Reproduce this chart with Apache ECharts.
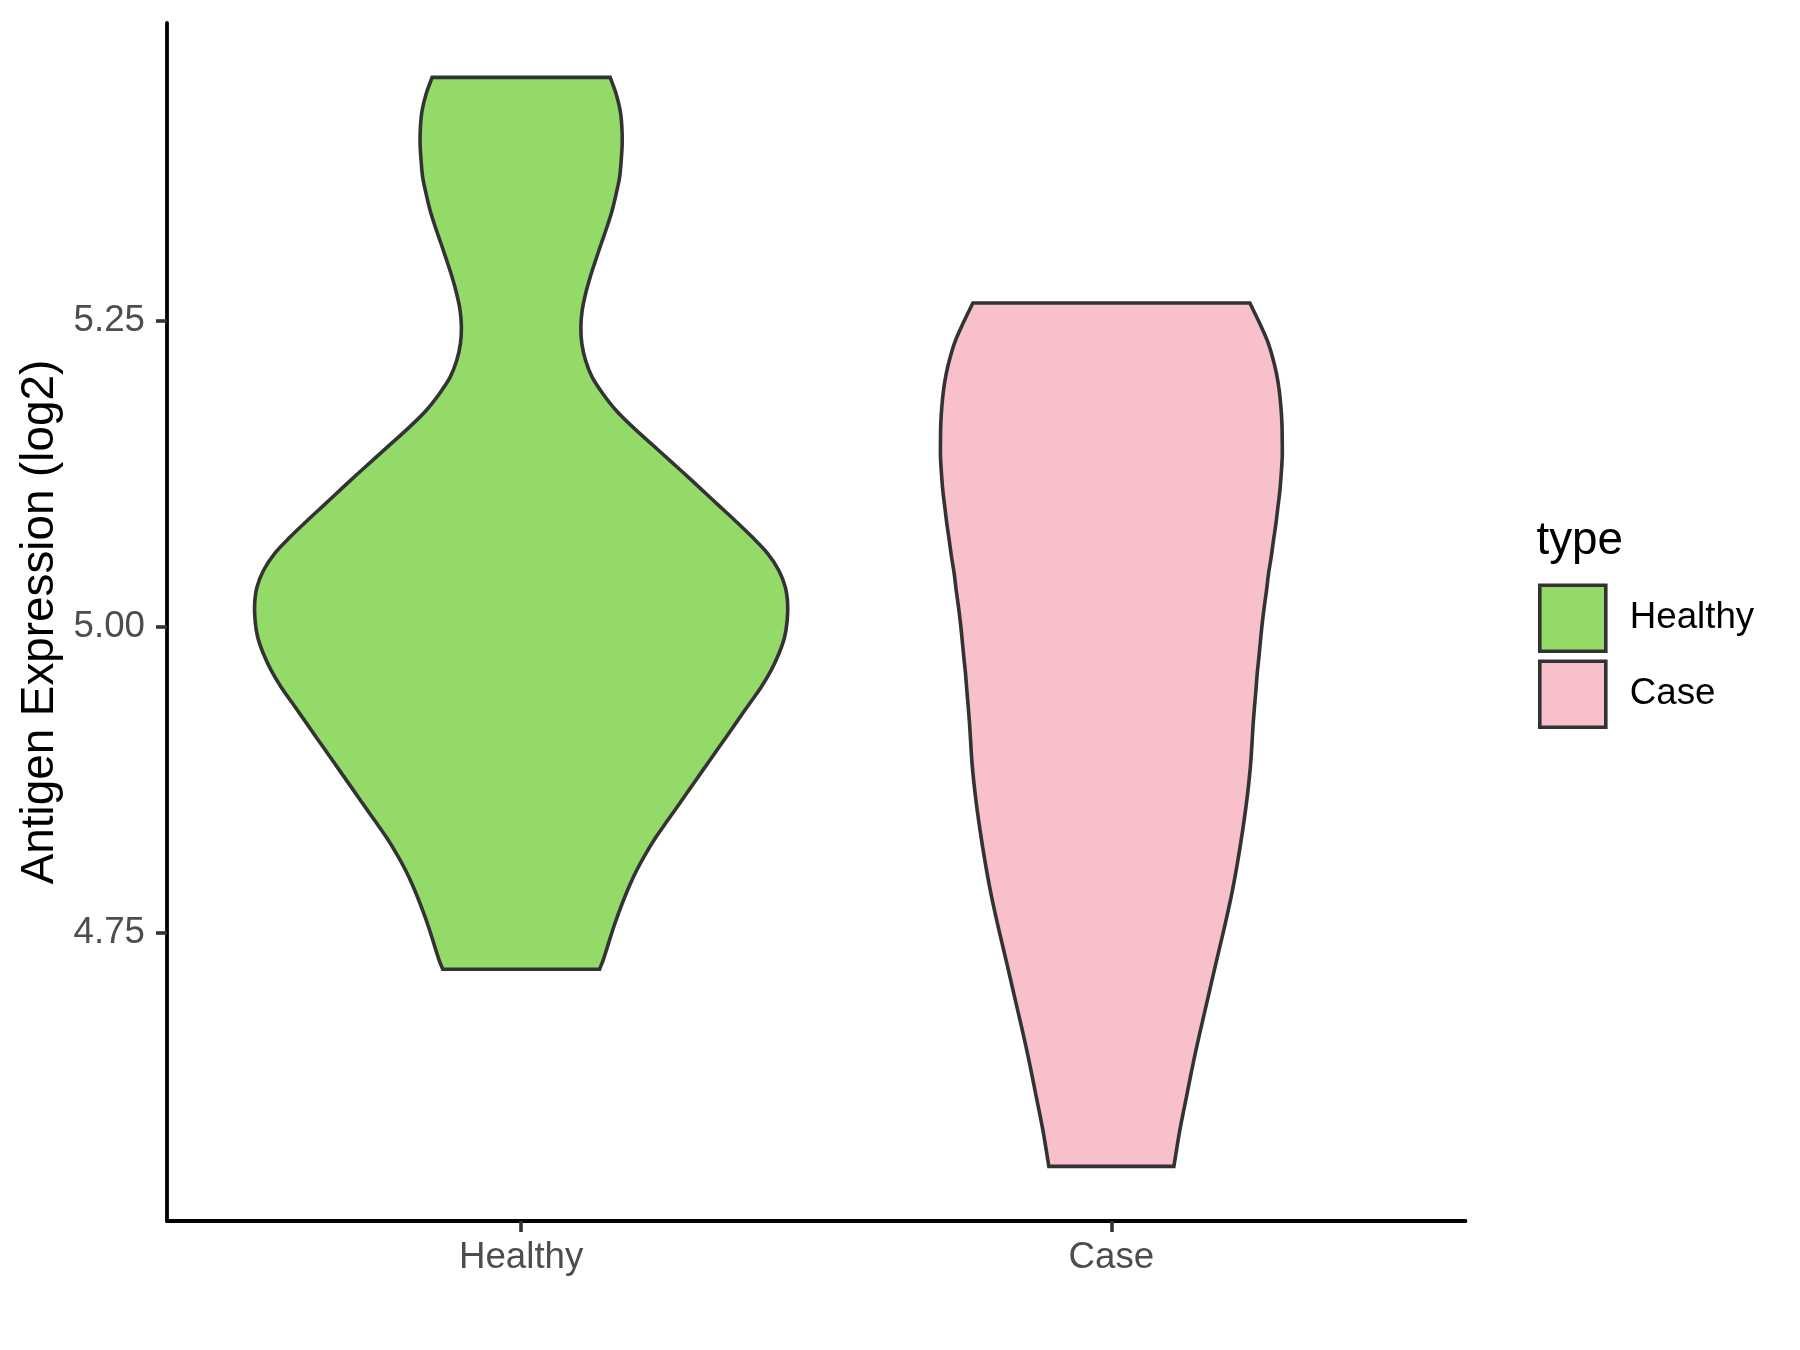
<!DOCTYPE html>
<html>
<head>
<meta charset="utf-8">
<script src="https://cdn.jsdelivr.net/npm/echarts@6/dist/echarts.min.js"></script>
<style>
html,body{margin:0;padding:0;background:#ffffff;}
#chart{width:1800px;height:1350px;}
</style>
</head>
<body>
<div id="chart"></div>
<script>
// ---- data ----
const categories = ['Healthy', 'Case'];
const yTickValues = [4.75, 5.00, 5.25];
const yAxisTitle = 'Antigen Expression (log2)';
const legendTitle = 'type';
const fillColors = ['#93DA69', '#F8C0CB'];

// Healthy violin outline: expression value (top -> bottom) and half-width (x units)
const healthyValues = [5.4488, 5.4353, 5.4217, 5.4080, 5.3945, 5.3809, 5.3672, 5.3537, 5.3401, 5.3264,
  5.3129, 5.2993, 5.2856, 5.2721, 5.2584, 5.2448, 5.2313, 5.2176, 5.2040, 5.1905,
  5.1768, 5.1632, 5.1497, 5.1360, 5.1224, 5.1007, 5.0871, 5.0734, 5.0599,
  5.0463, 5.0326, 5.0191, 5.0055, 4.9918, 4.9783, 4.9647, 4.9510, 4.9375, 4.9239,
  4.9102, 4.8967, 4.8831, 4.8694, 4.8559, 4.8423, 4.8286, 4.8151, 4.8015, 4.7878,
  4.7688, 4.7552, 4.7416, 4.7280, 4.7205];
const healthyHalfWidth = [0.1508, 0.1610, 0.1678, 0.1707, 0.1712, 0.1695, 0.1668, 0.1610, 0.1542, 0.1453,
  0.1356, 0.1261, 0.1169, 0.1092, 0.1034, 0.1012, 0.1029, 0.1092, 0.1203, 0.1385,
  0.1610, 0.1893, 0.2203, 0.2517, 0.2831, 0.3314, 0.3619, 0.3915, 0.4178,
  0.4364, 0.4475, 0.4515, 0.4508, 0.4464, 0.4368, 0.4237, 0.4068, 0.3871, 0.3673,
  0.3475, 0.3278, 0.3080, 0.2881, 0.2685, 0.2486, 0.2288, 0.2115, 0.1960, 0.1828,
  0.1670, 0.1570, 0.1480, 0.1390, 0.1329];

// Case violin outline
const caseValues = [5.2645, 5.2476, 5.2340, 5.2203, 5.2068, 5.1932, 5.1795, 5.1660, 5.1524, 5.1387,
  5.1252, 5.1116, 5.0979, 5.0844, 5.0708, 5.0571, 5.0436, 5.0299, 5.0163, 5.0028,
  4.9891, 4.9755, 4.9620, 4.9483, 4.9347, 4.9212, 4.8885, 4.8613, 4.8341, 4.8069,
  4.7797, 4.7525, 4.7253, 4.6981, 4.6709, 4.6437, 4.6165, 4.5893, 4.5595];
const caseHalfWidth = [0.2347, 0.2517, 0.2641, 0.2731, 0.2798, 0.2844, 0.2873, 0.2890, 0.2895, 0.2895,
  0.2878, 0.2856, 0.2822, 0.2788, 0.2747, 0.2708, 0.2663, 0.2629, 0.2590, 0.2556,
  0.2527, 0.2500, 0.2471, 0.2449, 0.2425, 0.2403, 0.2360, 0.2302, 0.2225, 0.2135,
  0.2030, 0.1905, 0.1771, 0.1641, 0.1510, 0.1386, 0.1273, 0.1161, 0.1059];

const violinValues = [healthyValues, caseValues];
const violinHalfWidths = [healthyHalfWidth, caseHalfWidth];

const FONT = "'Liberation Sans', Arial, Helvetica, sans-serif";
const OUTLINE = '#333333';

function smoothSegments(pts) {
  // cubic Hermite through the outline points with chord-length tangents
  const n = pts.length;
  const t = [0];
  for (let i = 1; i < n; i++) {
    t.push(t[i - 1] + (Math.hypot(pts[i][0] - pts[i - 1][0], pts[i][1] - pts[i - 1][1]) || 1e-6));
  }
  const tan = pts.map((p, i) => {
    const a = pts[Math.max(i - 1, 0)], b = pts[Math.min(i + 1, n - 1)];
    const dt = (t[Math.min(i + 1, n - 1)] - t[Math.max(i - 1, 0)]) || 1;
    return [(b[0] - a[0]) / dt, (b[1] - a[1]) / dt];
  });
  let d = '';
  for (let i = 0; i < n - 1; i++) {
    const h = t[i + 1] - t[i];
    const p1 = pts[i], p2 = pts[i + 1];
    const c1x = p1[0] + tan[i][0] * h / 3, c1y = p1[1] + tan[i][1] * h / 3;
    const c2x = p2[0] - tan[i + 1][0] * h / 3, c2y = p2[1] - tan[i + 1][1] * h / 3;
    d += ' C ' + c1x + ' ' + c1y + ' ' + c2x + ' ' + c2y + ' ' + p2[0] + ' ' + p2[1];
  }
  return d;
}

function violinPath(api, center, vals, halves) {
  const left = vals.map((v, i) => api.coord([center - halves[i], v]));
  const right = vals.map((v, i) => api.coord([center + halves[i], v])).reverse();
  let d = 'M ' + left[0][0] + ' ' + left[0][1];
  d += smoothSegments(left);
  d += ' L ' + right[0][0] + ' ' + right[0][1];
  d += smoothSegments(right);
  d += ' Z';
  return d;
}

const chart = echarts.init(document.getElementById('chart'), null, {renderer: 'canvas'});

const option = {
  animation: false,
  backgroundColor: '#ffffff',
  grid: {left: 167, right: 334.5, top: 23, bottom: 129, containLabel: false, outerBoundsMode: 'none'},
  xAxis: {
    type: 'value',
    min: 0.4,
    max: 2.6,
    splitLine: {show: false},
    axisLine: {show: true, onZero: false, lineStyle: {color: '#000000', width: 3.8}},
    axisTick: {show: true, customValues: [1, 2], length: 11, lineStyle: {color: OUTLINE, width: 3.6}},
    axisLabel: {
      show: true,
      customValues: [1, 2],
      margin: 18,
      fontSize: 36.7,
      fontFamily: FONT,
      color: '#4D4D4D',
      formatter: v => categories[Math.round(v) - 1] || ''
    }
  },
  yAxis: {
    type: 'value',
    min: 4.5149,
    max: 5.4932,
    splitLine: {show: false},
    axisLine: {show: true, onZero: false, lineStyle: {color: '#000000', width: 3.8}},
    axisTick: {show: true, customValues: yTickValues, length: 11, lineStyle: {color: OUTLINE, width: 3.6}},
    axisLabel: {
      show: true,
      customValues: yTickValues,
      margin: 22,
      fontSize: 36.7,
      fontFamily: FONT,
      color: '#4D4D4D',
      formatter: v => Number(v).toFixed(2)
    }
  },
  legend: {
    show: true,
    orient: 'vertical',
    left: 1538,
    top: 583.5,
    padding: 0,
    icon: 'rect',
    itemWidth: 66,
    itemHeight: 66,
    itemGap: 6.4,
    selectedMode: false,
    data: categories,
    itemStyle: {borderColor: OUTLINE, borderWidth: 3.6},
    textStyle: {fontSize: 36.7, fontFamily: FONT, color: '#000000', padding: [0, 0, 0, 19]}
  },
  graphic: [
    {
      type: 'text',
      x: 40,
      y: 622,
      rotation: Math.PI / 2,
      style: {text: yAxisTitle, fontSize: 45.8, fontFamily: FONT, fill: '#000000', align: 'center', verticalAlign: 'middle'}
    },
    {
      type: 'text',
      x: 1536.5,
      y: 541,
      style: {text: legendTitle, fontSize: 45.8, fontFamily: FONT, fill: '#000000', align: 'left', verticalAlign: 'middle'}
    }
  ],
  series: categories.map((name, gi) => ({
    type: 'custom',
    name: name,
    data: [[gi + 1, 5]],
    encode: {x: 0, y: 1},
    clip: false,
    itemStyle: {color: fillColors[gi], borderColor: OUTLINE, borderWidth: 3.6},
    renderItem: function (params, api) {
      return {
        type: 'path',
        shape: {pathData: violinPath(api, gi + 1, violinValues[gi], violinHalfWidths[gi])},
        style: {fill: fillColors[gi], stroke: OUTLINE, lineWidth: 3.6, lineJoin: 'miter'}
      };
    }
  }))
};

chart.setOption(option);
</script>
</body>
</html>
